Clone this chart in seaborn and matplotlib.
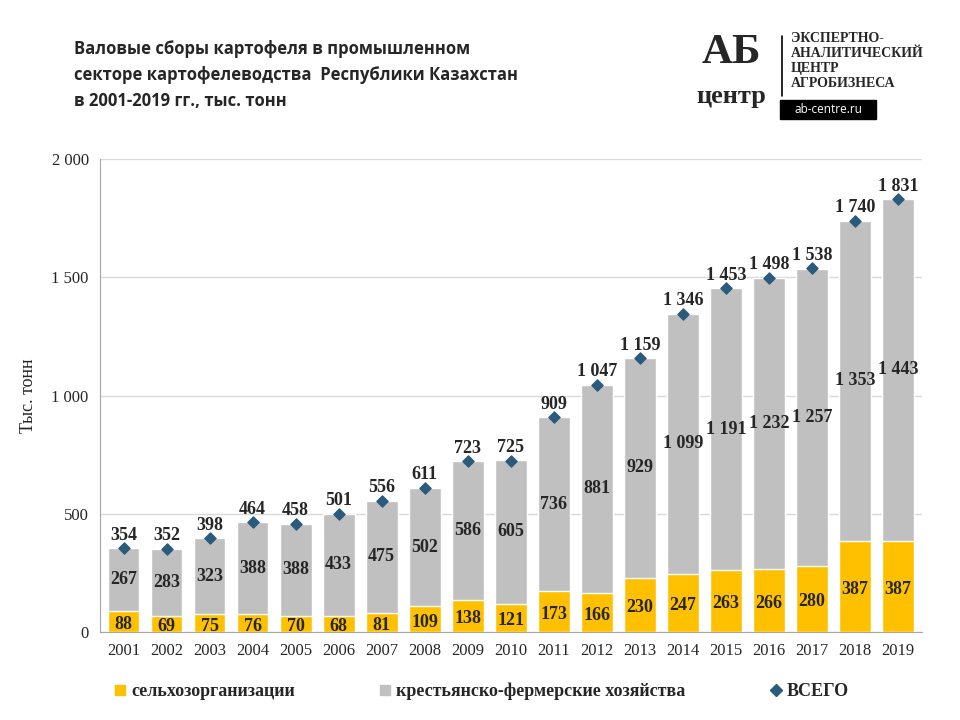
import numpy as np
import pandas as pd
import matplotlib
matplotlib.use('Agg')
import matplotlib.pyplot as plt
from matplotlib.lines import Line2D
from matplotlib.patches import Rectangle
import seaborn as sns

# Данные
years = [str(y) for y in range(2001, 2020)]
agro_orgs = [88, 69, 75, 76, 70, 68, 81, 109, 138, 121, 173, 166, 230, 247, 263, 266, 280, 387, 387]
farms = [267, 283, 323, 388, 388, 433, 475, 502, 586, 605, 736, 881, 929, 1099, 1191, 1232, 1257, 1353, 1443]
totals = [354, 352, 398, 464, 458, 501, 556, 611, 723, 725, 909, 1047, 1159, 1346, 1453, 1498, 1538, 1740, 1831]
yticks = [0, 500, 1000, 1500, 2000]

yellow = '#FFC000'
grey = '#C0C0C0'
blue = '#2A5A7C'
serif = 'Liberation Serif'


def fmt(v):
    return f'{v:,}'.replace(',', ' ')


df = pd.DataFrame({'year': years, 'orgs': agro_orgs, 'farms': farms, 'total': totals})
df['stack'] = df['orgs'] + df['farms']

sns.set_style('white')
fig = plt.figure(figsize=(9.6, 7.2), dpi=100)
ax = fig.add_axes([0.104, 0.122, 0.856, 0.657])

sns.barplot(data=df, x='year', y='stack', color=grey, width=0.74, saturation=1, ax=ax, zorder=2)
sns.barplot(data=df, x='year', y='orgs', color=yellow, width=0.74, saturation=1, ax=ax, zorder=3)
ax.scatter(range(len(years)), df['total'], marker='D', s=32, color=blue, zorder=5)

for i, row in df.iterrows():
    ax.text(i, row['orgs'] / 2 - 12, fmt(row['orgs']), ha='center', va='center',
            fontsize=13, fontweight='bold', family=serif, zorder=6)
    ax.text(i, row['orgs'] + row['farms'] / 2, fmt(row['farms']), ha='center', va='center',
            fontsize=13, fontweight='bold', family=serif, zorder=6)
    ax.text(i, row['total'] + 55, fmt(row['total']), ha='center', va='center',
            fontsize=13, fontweight='bold', family=serif, zorder=6)

ax.set_ylim(0, 2000)
ax.set_xlim(-0.55, len(years) - 0.45)
ax.set_yticks(yticks)
ax.set_yticklabels([fmt(t) for t in yticks], family=serif, fontsize=12)
ax.set_xticks(range(len(years)))
ax.set_xticklabels(years, family=serif, fontsize=12)
ax.tick_params(axis='both', length=0, pad=8)
ax.set_xlabel('')
ax.set_ylabel('Тыс. тонн', family=serif, fontsize=13, labelpad=10)
ax.yaxis.grid(True, color='#D9D9D9', linewidth=1, zorder=0)
ax.set_axisbelow(True)
for side in ['top', 'right']:
    ax.spines[side].set_visible(False)
ax.spines['left'].set_color('#A6A6A6')
ax.spines['bottom'].set_color('#A6A6A6')

# Легенда
handles = [
    Line2D([], [], marker='s', linestyle='', color=yellow, markersize=7),
    Line2D([], [], marker='s', linestyle='', color=grey, markersize=7),
    Line2D([], [], marker='D', linestyle='', color=blue, markersize=6),
]
labels = ['сельхозорганизации', 'крестьянско-фермерские хозяйства', 'ВСЕГО']
fig.legend(handles, labels, loc='center', bbox_to_anchor=(0.5, 0.04), ncol=3, frameon=False,
           prop={'family': serif, 'weight': 'bold', 'size': 13}, handletextpad=0.1,
           columnspacing=4.5, handlelength=1)

# Заголовок
fig.text(0.077, 0.945, 'Валовые сборы картофеля в промышленном\nсекторе картофелеводства  Республики Казахстан\nв 2001-2019 гг., тыс. тонн',
         ha='left', va='top', fontsize=12, fontweight='bold', family='Open Sans', linespacing=1.6)

# Логотип
fig.text(0.762, 0.927, 'АБ', fontsize=31, fontweight='bold', family=serif, ha='center', va='center')
fig.text(0.762, 0.866, 'центр', fontsize=19, fontweight='bold', family=serif, ha='center', va='center')
fig.add_artist(Line2D([0.815, 0.815], [0.866, 0.95], color='black', linewidth=1.2))
fig.text(0.824, 0.955, 'ЭКСПЕРТНО-\nАНАЛИТИЧЕСКИЙ\nЦЕНТР\nАГРОБИЗНЕСА', fontsize=10, fontweight='bold',
         family=serif, ha='left', va='top', linespacing=1.2)
fig.add_artist(Rectangle((0.813, 0.835), 0.1, 0.026, color='black', transform=fig.transFigure))
fig.text(0.863, 0.848, 'ab-centre.ru', fontsize=8.5, color='white', family='Open Sans',
         ha='center', va='center')

plt.savefig('out.png', dpi=100)
